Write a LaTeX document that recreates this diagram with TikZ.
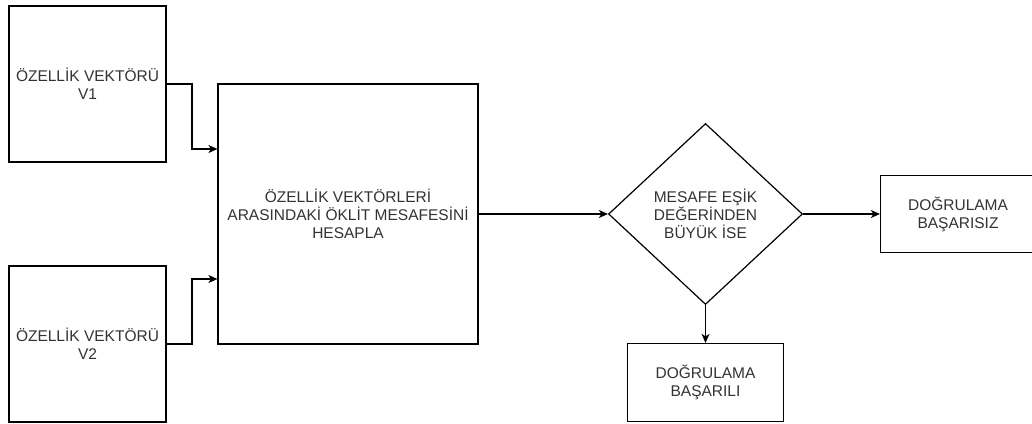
\documentclass[tikz,border=0pt]{standalone}
\usepackage{fontspec}
\setmainfont{Liberation Sans}
\usetikzlibrary{arrows.meta,shapes.geometric}
\definecolor{txt}{HTML}{333333}
\begin{document}
\begin{tikzpicture}[x=1pt,y=-1pt,
  box/.style={draw=black,line width=1.2pt,fill=white,inner sep=0pt,font=\fontsize{15.5}{18}\selectfont,text=txt,align=center},
  conn/.style={draw=black,line width=1.2pt,-{Stealth[length=9pt,width=8pt,inset=2.5pt]}}]
\useasboundingbox (0,0) rectangle (1032,423);
\clip (0,0) rectangle (1032,423);
\node[box,minimum width=157pt,minimum height=156pt] (v1) at (87.5,84) {ÖZELLİK VEKTÖRÜ\\V1};
\node[box,minimum width=157pt,minimum height=156pt] (v2) at (87.5,344) {ÖZELLİK VEKTÖRÜ\\V2};
\node[box,minimum width=260pt,minimum height=260pt] (calc) at (348,214) {ÖZELLİK VEKTÖRLERİ\\ARASINDAKİ ÖKLİT MESAFESİNİ\\HESAPLA};
\node[box,diamond,minimum width=194pt,minimum height=181pt,aspect=1.07] (dec) at (705.5,214) {MESAFE EŞİK\\DEĞERİNDEN\\BÜYÜK İSE};
\node[box,minimum width=155pt,minimum height=77pt] (fail) at (958,214) {DOĞRULAMA\\BAŞARISIZ};
\node[box,minimum width=156pt,minimum height=78pt] (ok) at (705.5,382.5) {DOĞRULAMA\\BAŞARILI};
\coordinate (in1) at (calc.west |- 0,149);
\coordinate (in2) at (calc.west |- 0,279);
\draw[conn] (v1.east) -- (192,84) |- (in1);
\draw[conn] (v2.east) -- (192,344) |- (in2);
\draw[conn] (calc.east) -- (dec.west);
\draw[conn] (dec.east) -- (fail.west);
\draw[conn] (dec.south) -- (ok.north);
\end{tikzpicture}
\end{document}
